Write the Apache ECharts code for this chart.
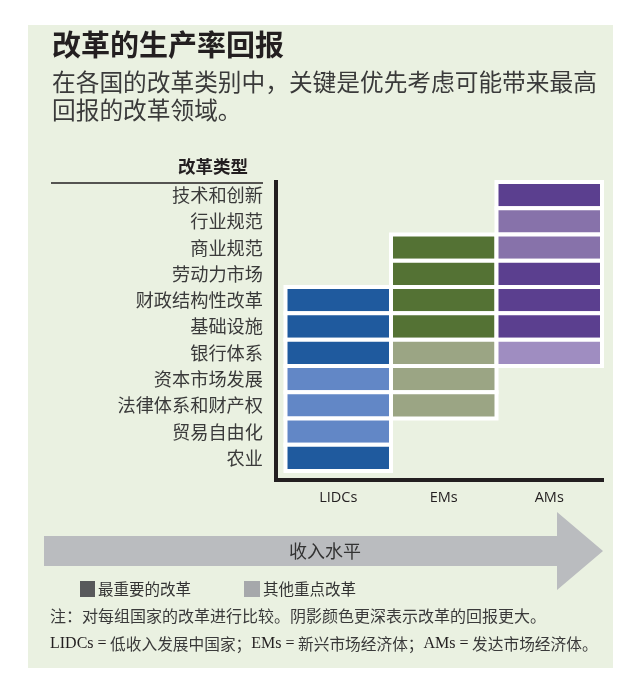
<!DOCTYPE html>
<html><head><meta charset="utf-8">
<script src="https://cdn.jsdelivr.net/npm/echarts@6/dist/echarts.min.js"></script>
<style>html,body{margin:0;padding:0;background:#fff}#c{width:630px;height:699px}</style>
</head><body><div id="c"></div>
<script>
// ---- data ----
const categories = ['技术和创新','行业规范','商业规范','劳动力市场','财政结构性改革','基础设施','银行体系','资本市场发展','法律体系和财产权','贸易自由化','农业'];
const groups = ['LIDCs','EMs','AMs'];
// shade level: 3 = darkest (largest return), 2 = medium, 1 = lighter, null = not a priority
const lidcs = [null,null,null,null,3,3,3,1,1,1,3];
const ems   = [null,null,3,3,3,3,1,1,1,null,null];
const ams   = [3,2,2,3,3,3,1,null,null,null,null];
const legendNames = ['最重要的改革','其他重点改革'];

const palette = [
  {3:'#1f5a9e', 2:'#4470b2', 1:'#6287c6'},
  {3:'#547234', 2:'#778c5c', 1:'#9ba584'},
  {3:'#5b3f8f', 2:'#8772aa', 1:'#9f8dc1'}
];
const columns = [lidcs, ems, ams];
const cells = [];
columns.forEach((col, ci) => col.forEach((lv, ri) => { if (lv != null) cells.push([ci, ri, lv]); }));

const CJK = '"Noto Sans CJK SC", sans-serif';
const chart = echarts.init(document.getElementById('c'), null, {renderer:'canvas'});
chart.setOption({
  backgroundColor: '#ffffff',
  animation: false,
  grid: [
    {left: 285.5, width: 316.5, top: 182, height: 289},
    {left: 276, right: 28, top: 182, bottom: 219}
  ],
  xAxis: [
    {type:'category', gridIndex:0, data: groups, boundaryGap:true,
     axisLine:{show:false}, axisTick:{show:false}, splitLine:{show:false},
     axisLabel:{margin:19, fontSize:14.5, color:'#231f20', fontFamily:'"Open Sans", sans-serif'}},
    {type:'value', gridIndex:1, min:0, max:1, position:'bottom',
     axisLine:{show:true, onZero:false, lineStyle:{color:'#231f20', width:4, cap:'square'}},
     axisTick:{show:false}, axisLabel:{show:false}, splitLine:{show:false}}
  ],
  yAxis: [
    {type:'category', gridIndex:0, data: categories, inverse:true, boundaryGap:true,
     axisLine:{show:false}, axisTick:{show:false}, splitLine:{show:false},
     axisLabel:{margin:22.5, fontSize:18.2, color:'#3a3a3a', fontFamily:CJK, align:'right'}},
    {type:'value', gridIndex:1, min:0, max:1, position:'left',
     axisLine:{show:true, onZero:false, lineStyle:{color:'#231f20', width:4, cap:'square'}},
     axisTick:{show:false}, axisLabel:{show:false}, splitLine:{show:false}}
  ],
  series: [{
    type:'custom', xAxisIndex:0, yAxisIndex:0, data: cells,
    encode:{x:0, y:1},
    renderItem: function(params, api){
      const ci = api.value(0), lv = api.value(2);
      const c = api.coord([ci, api.value(1)]);
      const s = api.size([1,1]);
      return {type:'rect', shape:{x:c[0]-s[0]/2, y:c[1]-s[1]/2, width:s[0], height:s[1]},
        style:{fill: palette[ci][lv], stroke:'#ffffff', lineWidth:4}};
    }
  }],
  graphic: [
    {type:'rect', z:-10, shape:{x:28, y:25, width:585, height:643}, style:{fill:'#eaf1e1'}},
    {type:'text', left:52, top:30, style:{text:'改革的生产率回报', font:'bold 29px '+CJK, fill:'#231f20'}},
    {type:'text', left:52, top:68, style:{text:'在各国的改革类别中，关键是优先考虑可能带来最高\n回报的改革领域。', font:'23.7px '+CJK, fill:'#3a3a3a', lineHeight:28}},
    {type:'text', left:178, top:158, style:{text:'改革类型', font:'bold 17.5px '+CJK, fill:'#231f20'}},
    {type:'line', shape:{x1:51, y1:183, x2:263, y2:183}, style:{stroke:'#231f20', lineWidth:1.5}},
    {type:'polygon', shape:{points:[[44,536],[557,536],[557,512],[603,551],[557,590],[557,566],[44,566]]}, style:{fill:'#babcbf'}},
    {type:'text', x:325, y:551, style:{text:'收入水平', font:'18px '+CJK, fill:'#333333', align:'center', verticalAlign:'middle'}},
    {type:'rect', shape:{x:80, y:581, width:15, height:16}, style:{fill:'#58595b'}},
    {type:'text', x:98, y:589, style:{text:legendNames[0], font:'15.5px '+CJK, fill:'#333333', verticalAlign:'middle'}},
    {type:'rect', shape:{x:244, y:581, width:16, height:16}, style:{fill:'#a6a8ab'}},
    {type:'text', x:263, y:589, style:{text:legendNames[1], font:'15.5px '+CJK, fill:'#333333', verticalAlign:'middle'}},
    {type:'text', x:50, y:616, style:{text:'注：对每组国家的改革进行比较。阴影颜色更深表示改革的回报更大。', font:'16px '+CJK, fill:'#3a3a3a', verticalAlign:'middle'}},
    {type:'text', x:50, y:644, style:{
      text:'{l|LIDCs =} 低收入发展中国家；{l|EMs =} 新兴市场经济体；{l|AMs =} 发达市场经济体。',
      font:'15.7px '+CJK, fill:'#3a3a3a', verticalAlign:'middle',
      rich:{l:{fontFamily:'"Liberation Serif", serif', fontSize:16, fill:'#231f20'}}}}
  ]
});
</script></body></html>
